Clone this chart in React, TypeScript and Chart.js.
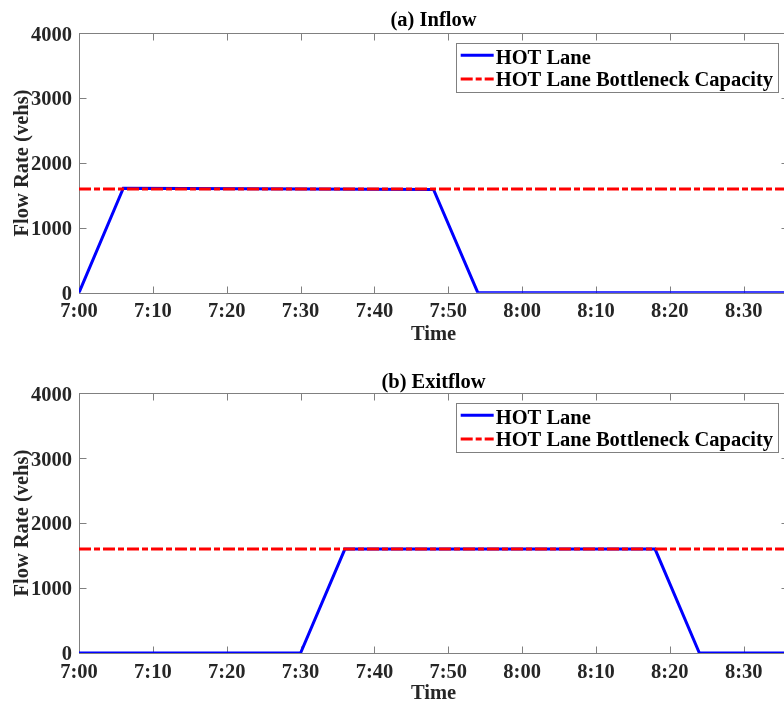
import React, { useEffect, useRef } from 'react';
import { Chart, registerables } from 'chart.js';

Chart.register(...registerables);

// ---------- data ----------
const xTickMinutes = [0, 10, 20, 30, 40, 50, 60, 70, 80, 90];
const xTickLabels = ['7:00', '7:10', '7:20', '7:30', '7:40', '7:50', '8:00', '8:10', '8:20', '8:30'];
const yTicks = [0, 1000, 2000, 3000, 4000];

const inflowMinutes = [0, 6, 48, 54, 96];
const inflowHOT = [0, 1612, 1592, 0, 0];

const exitMinutes = [0, 30, 36, 78, 84, 96];
const exitHOT = [0, 0, 1600, 1600, 0, 0];

const capacityMinutes = [0, 96];
const capacityValues = [1600, 1600];

const seriesLabels = ['HOT Lane', 'HOT Lane Bottleneck Capacity'];
const panelTitles = ['(a) Inflow', '(b) Exitflow'];
const xAxisTitle = 'Time';
const yAxisTitle = 'Flow Rate (vehs)';

// ---------- styles ----------
const FAMILY = '"Liberation Serif", "Times New Roman", serif';
const FS = 20.5;
const font20 = { family: FAMILY, size: FS, weight: 'bold' as const, lineHeight: 1 };
const AXIS_GRAY = '#808080';
const TEXT = '#262626';
const DASH = [12, 3, 6, 3];

const framePlugin = {
  id: 'matlabFrame',
  beforeDatasetsDraw(chart: any) {
    const { ctx, chartArea: a, scales } = chart;
    const x = scales.x;
    const y = scales.y;
    ctx.save();
    ctx.strokeStyle = AXIS_GRAY;
    ctx.lineWidth = 1;
    const L = Math.round(a.left) + 0.5;
    const R = Math.round(a.right) + 0.5;
    const T = Math.round(a.top) + 0.5;
    const B = Math.round(a.bottom) + 0.5;
    ctx.strokeRect(L, T, R - L, B - T);
    const tl = 7;
    ctx.beginPath();
    x.ticks.forEach((t: any) => {
      const px = Math.round(x.getPixelForValue(t.value)) + 0.5;
      ctx.moveTo(px, B);
      ctx.lineTo(px, B - tl);
      ctx.moveTo(px, T);
      ctx.lineTo(px, T + tl);
    });
    y.ticks.forEach((t: any) => {
      const py = Math.round(y.getPixelForValue(t.value)) + 0.5;
      ctx.moveTo(L, py);
      ctx.lineTo(L + tl, py);
      ctx.moveTo(R, py);
      ctx.lineTo(R - tl, py);
    });
    ctx.stroke();
    ctx.restore();
  },
  afterDatasetsDraw(chart: any) {
    const { ctx, chartArea: a } = chart;
    const ds = chart.data.datasets;
    ctx.save();
    ctx.font = `bold ${FS}px ${FAMILY}`;
    const textW = Math.max(...ds.map((d: any) => ctx.measureText(d.label).width));
    const padL = 5, sample = 33, gap = 2, padR = 5;
    const w = padL + sample + gap + textW + padR;
    const h = 49;
    const right = a.right - 10;
    const top = a.top + 9.5;
    const left = right - w;
    ctx.fillStyle = '#ffffff';
    ctx.fillRect(left, top, w, h);
    ctx.strokeStyle = AXIS_GRAY;
    ctx.lineWidth = 1;
    ctx.strokeRect(Math.round(left) + 0.5, Math.round(top) + 0.5, Math.round(w), h);
    const textRows = [16, 37.6];
    const sampleRows = [12.5, 36.3];
    ds.forEach((d: any, i: number) => {
      const sy = top + sampleRows[i];
      ctx.beginPath();
      ctx.strokeStyle = d.borderColor;
      ctx.lineWidth = d.borderWidth;
      ctx.setLineDash(d.borderDash || []);
      ctx.moveTo(left + padL, sy);
      ctx.lineTo(left + padL + sample, sy);
      ctx.stroke();
      ctx.setLineDash([]);
      ctx.fillStyle = '#000000';
      ctx.textBaseline = 'middle';
      ctx.textAlign = 'left';
      ctx.fillText(d.label, left + padL + sample + gap, top + textRows[i]);
    });
    ctx.restore();
  },
};

interface PanelSpec {
  title: string;
  times: number[];
  values: number[];
  titlePad: { top: number; bottom: number };
  xAxisHeight: number;
  xTitlePadBottom: number;
}

function buildConfig(p: PanelSpec): any {
  return {
    type: 'line',
    data: {
      datasets: [
        {
          label: seriesLabels[0],
          data: p.times.map((t, i) => ({ x: t, y: p.values[i] })),
          borderColor: '#0000ff',
          borderWidth: 3,
          pointRadius: 0,
          fill: false,
          tension: 0,
          order: 1,
        },
        {
          label: seriesLabels[1],
          data: capacityMinutes.map((t, i) => ({ x: t, y: capacityValues[i] })),
          borderColor: '#ff0000',
          borderWidth: 3,
          borderDash: DASH,
          pointRadius: 0,
          fill: false,
          tension: 0,
          order: 0,
        },
      ],
    },
    options: {
      responsive: false,
      animation: false,
      devicePixelRatio: 1,
      layout: { padding: { left: 0, right: 12, top: 0, bottom: 0 } },
      plugins: {
        legend: { display: false },
        tooltip: { enabled: false },
        title: {
          display: true,
          text: p.title,
          fullSize: false,
          color: '#000000',
          font: font20,
          padding: p.titlePad,
        },
      },
      scales: {
        x: {
          type: 'linear',
          min: 0,
          max: 96,
          afterBuildTicks: (s: any) => {
            s.ticks = xTickMinutes.map((v) => ({ value: v }));
          },
          afterFit: (s: any) => {
            s.height = p.xAxisHeight;
          },
          grid: { display: false, drawTicks: false },
          border: { display: false },
          ticks: {
            autoSkip: false,
            maxRotation: 0,
            padding: 9,
            color: TEXT,
            font: font20,
            callback: (v: number) => {
              const i = xTickMinutes.indexOf(v);
              return i >= 0 ? xTickLabels[i] : '';
            },
          },
          title: {
            display: true,
            text: xAxisTitle,
            color: TEXT,
            font: font20,
            padding: { top: 0, bottom: p.xTitlePadBottom },
          },
        },
        y: {
          type: 'linear',
          min: 0,
          max: 4000,
          afterBuildTicks: (s: any) => {
            s.ticks = yTicks.map((v) => ({ value: v }));
          },
          afterFit: (s: any) => {
            s.width = 79;
          },
          grid: { display: false, drawTicks: false },
          border: { display: false },
          ticks: {
            padding: 7,
            labelOffset: 2,
            color: TEXT,
            font: font20,
            callback: (v: number) => String(v),
          },
          title: {
            display: true,
            text: yAxisTitle,
            color: TEXT,
            font: font20,
            padding: { top: 12, bottom: 0 },
          },
        },
      },
    },
    plugins: [framePlugin],
  };
}

const panels: { spec: PanelSpec; top: number; height: number }[] = [
  {
    spec: {
      title: panelTitles[0],
      times: inflowMinutes,
      values: inflowHOT,
      titlePad: { top: 10, bottom: 2.8 },
      xAxisHeight: 67.3,
      xTitlePadBottom: 14.75,
    },
    top: 0,
    height: 360,
  },
  {
    spec: {
      title: panelTitles[1],
      times: exitMinutes,
      values: exitHOT,
      titlePad: { top: 22, bottom: 0.8 },
      xAxisHeight: 57,
      xTitlePadBottom: 5.75,
    },
    top: 350,
    height: 360,
  },
];

function Panel({ spec, top, height }: { spec: PanelSpec; top: number; height: number }) {
  const ref = useRef<HTMLCanvasElement>(null);
  useEffect(() => {
    const chart = new Chart(ref.current as HTMLCanvasElement, buildConfig(spec));
    return () => chart.destroy();
  }, []);
  return (
    <canvas
      ref={ref}
      width={800}
      height={height}
      style={{ position: 'absolute', left: 0, top, width: 800, height }}
    />
  );
}

export default function App() {
  return (
    <div
      style={{
        position: 'fixed',
        left: 0,
        top: 0,
        width: 784,
        height: 703,
        overflow: 'hidden',
        background: '#ffffff',
      }}
    >
      {panels.map((p, i) => (
        <Panel key={i} spec={p.spec} top={p.top} height={p.height} />
      ))}
    </div>
  );
}
